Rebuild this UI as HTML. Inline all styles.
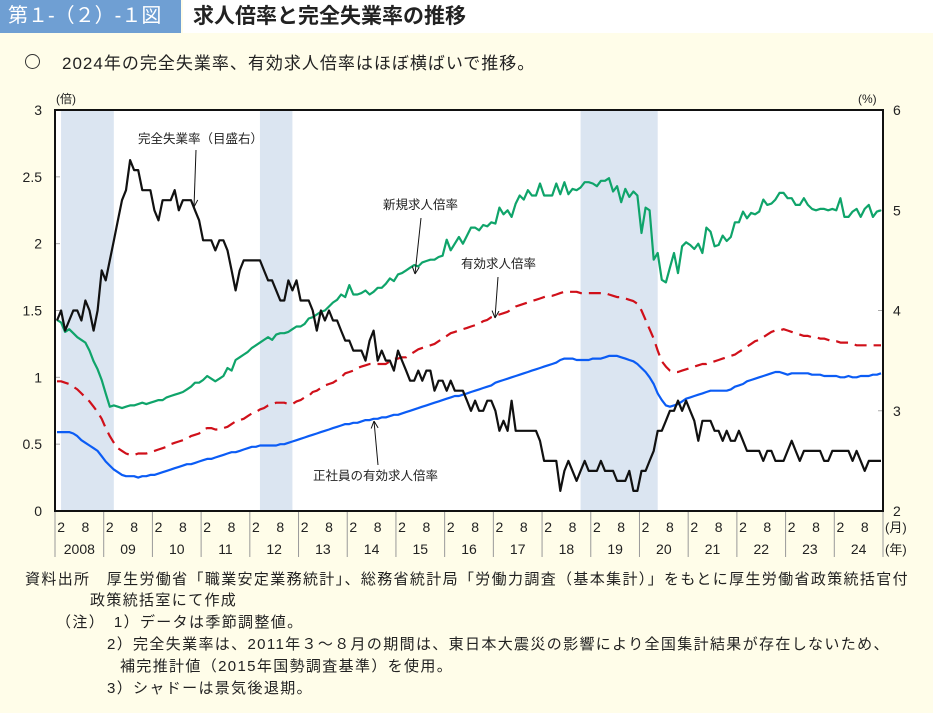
<!DOCTYPE html>
<html><head><meta charset="utf-8">
<style>
body{margin:0;width:933px;height:713px;background:#fffde9;overflow:hidden;font-family:"Liberation Sans","Noto Sans CJK JP",sans-serif;color:#222;position:relative}
.hdr-l{position:absolute;left:0;top:0;width:181px;height:33px;background:#6f9fd3;color:#fff;font-size:20px;line-height:33px;padding-left:8px;box-sizing:border-box;white-space:nowrap;overflow:hidden}
.hdr-r{position:absolute;left:183px;top:0;width:750px;height:33px;background:#fff;font-size:21px;line-height:33px;padding-left:10px;box-sizing:border-box;font-weight:bold;color:#222}
.sub{position:absolute;top:49px;font-size:17px;letter-spacing:1px;white-space:nowrap}
.fn{position:absolute;font-size:15px;letter-spacing:1.35px;white-space:nowrap}
</style></head><body>
<div class="hdr-l">第１-（２）-１図</div>
<div class="hdr-r">求人倍率と完全失業率の推移</div>
<div style="position:absolute;left:25px;top:54px;width:13px;height:13px;border:1.3px solid #333;border-radius:50%"></div>
<div class="sub" style="left:62px">2024年の完全失業率、有効求人倍率はほぼ横ばいで推移。</div>
<svg id="chart" width="933" height="713" style="position:absolute;left:0;top:0" font-family="Liberation Sans, Noto Sans CJK JP, sans-serif"></svg>
<div class="fn" style="left:25px;top:568px">資料出所　厚生労働省「職業安定業務統計」、総務省統計局「労働力調査（基本集計）」をもとに厚生労働省政策統括官付</div>
<div class="fn" style="left:90px;top:589px">政策統括室にて作成</div>
<div class="fn" style="left:56px;top:611px">（注）　1）データは季節調整値。</div>
<div class="fn" style="left:107px;top:633px">2）完全失業率は、2011年３～８月の期間は、東日本大震災の影響により全国集計結果が存在しないため、</div>
<div class="fn" style="left:120px;top:655px">補完推計値（2015年国勢調査基準）を使用。</div>
<div class="fn" style="left:107px;top:677px">3）シャドーは景気後退期。</div>
<script>
const years=[2008,2009,2010,2011,2012,2013,2014,2015,2016,2017,2018,2019,2020,2021,2022,2023,2024];
const yearLabels=["2008","09","10","11","12","13","14","15","16","17","18","19","20","21","22","23","24"];
const leftTicks=[0,0.5,1,1.5,2,2.5,3];
const leftTickLabels=["0","0.5","1","1.5","2","2.5","3"];
const rightTicks=[2,3,4,5,6];
const recessions=[[1,14],[50,58],[129,148]];
const newOpenings=[1.43,1.41,1.34,1.36,1.33,1.30,1.28,1.26,1.20,1.12,1.06,0.98,
0.88,0.78,0.79,0.78,0.77,0.78,0.79,0.79,0.80,0.81,0.80,0.81,
0.82,0.83,0.83,0.85,0.86,0.87,0.88,0.89,0.91,0.93,0.96,0.96,
0.98,1.01,0.99,0.97,0.99,1.01,1.07,1.05,1.13,1.15,1.17,1.19,
1.22,1.24,1.26,1.28,1.30,1.28,1.32,1.33,1.33,1.34,1.36,1.38,
1.38,1.40,1.44,1.45,1.47,1.49,1.50,1.53,1.56,1.58,1.62,1.60,
1.69,1.62,1.62,1.63,1.65,1.62,1.64,1.67,1.67,1.70,1.74,1.72,
1.77,1.78,1.80,1.82,1.84,1.83,1.86,1.87,1.88,1.88,1.90,1.91,
2.03,1.95,2.00,2.05,2.00,2.06,2.12,2.12,2.10,2.14,2.13,2.16,
2.15,2.27,2.22,2.25,2.20,2.30,2.36,2.33,2.40,2.36,2.36,2.45,
2.36,2.36,2.36,2.45,2.37,2.46,2.37,2.41,2.40,2.42,2.46,2.46,
2.45,2.43,2.47,2.47,2.49,2.39,2.43,2.31,2.41,2.35,2.39,2.36,
2.08,2.27,2.25,1.88,1.93,1.73,1.71,1.82,1.93,1.78,1.98,2.01,
1.99,1.96,2.00,1.93,2.12,2.09,1.98,1.99,2.06,2.02,2.05,2.16,
2.16,2.24,2.19,2.23,2.22,2.24,2.33,2.29,2.30,2.33,2.38,2.38,
2.34,2.34,2.29,2.29,2.34,2.29,2.26,2.25,2.26,2.26,2.25,2.26,
2.25,2.34,2.20,2.20,2.24,2.26,2.20,2.26,2.29,2.20,2.24,2.25];
const activeOpenings=[.97,.97,.96,.95,.93,.91,.88,.85,.82,.78,.74,.69,
.62,.56,.51,.47,.45,.43,.42,.42,.43,.43,.43,.44,
.45,.46,.47,.48,.50,.51,.52,.53,.54,.56,.57,.58,
.61,.62,.62,.61,.61,.62,.63,.65,.67,.68,.69,.71,
.73,.74,.76,.77,.79,.80,.81,.81,.81,.80,.80,.82,
.83,.85,.86,.89,.90,.92,.94,.95,.96,.98,1.00,1.03,
1.04,1.05,1.07,1.08,1.09,1.10,1.10,1.10,1.10,1.10,1.12,1.14,
1.14,1.15,1.15,1.17,1.19,1.21,1.22,1.23,1.24,1.25,1.27,1.29,
1.31,1.33,1.34,1.35,1.36,1.37,1.38,1.39,1.40,1.42,1.43,1.45,
1.46,1.47,1.48,1.49,1.51,1.53,1.54,1.55,1.56,1.57,1.58,1.59,
1.60,1.61,1.61,1.62,1.63,1.64,1.64,1.64,1.64,1.63,1.63,1.63,
1.63,1.63,1.63,1.63,1.62,1.61,1.60,1.60,1.59,1.58,1.57,1.55,
1.50,1.43,1.36,1.29,1.20,1.12,1.08,1.05,1.04,1.04,1.05,1.06,
1.07,1.08,1.09,1.10,1.10,1.11,1.12,1.13,1.14,1.15,1.16,1.17,
1.19,1.21,1.23,1.25,1.27,1.28,1.30,1.32,1.34,1.35,1.35,1.36,
1.35,1.34,1.33,1.32,1.31,1.31,1.30,1.30,1.29,1.29,1.28,1.27,
1.27,1.26,1.26,1.26,1.25,1.24,1.24,1.24,1.24,1.24,1.24,1.24];
const regularOpenings=[.59,.59,.59,.59,.58,.56,.53,.51,.49,.47,.45,.41,
.37,.34,.31,.29,.27,.26,.26,.26,.25,.26,.26,.27,
.27,.28,.29,.30,.31,.32,.33,.34,.35,.35,.36,.37,
.38,.39,.39,.40,.41,.42,.43,.44,.44,.45,.46,.47,
.48,.48,.49,.49,.49,.49,.49,.50,.50,.51,.52,.53,
.54,.55,.56,.57,.58,.59,.60,.61,.62,.63,.64,.65,
.65,.66,.66,.67,.68,.68,.69,.69,.70,.70,.71,.72,
.72,.73,.74,.75,.76,.77,.78,.79,.80,.81,.82,.83,
.84,.85,.86,.86,.87,.88,.89,.90,.91,.92,.93,.94,
.96,.97,.98,.99,1.00,1.01,1.02,1.03,1.04,1.05,1.06,1.07,
1.08,1.09,1.10,1.11,1.13,1.14,1.14,1.14,1.13,1.13,1.13,1.13,
1.14,1.14,1.14,1.15,1.16,1.16,1.16,1.15,1.14,1.13,1.12,1.10,
1.07,1.04,1.00,.95,.88,.83,.79,.78,.79,.80,.82,.84,
.85,.86,.87,.88,.89,.90,.90,.90,.90,.90,.91,.93,
.94,.95,.97,.98,.99,1.00,1.01,1.02,1.03,1.04,1.04,1.03,
1.02,1.03,1.03,1.03,1.03,1.03,1.02,1.02,1.02,1.01,1.01,1.01,
1.01,1.00,1.00,1.01,1.00,1.00,1.01,1.01,1.01,1.02,1.02,1.03];
const unemployment=[3.9,4.0,3.8,3.9,4.0,4.0,3.9,4.1,4.0,3.8,4.0,4.4,
4.3,4.5,4.7,4.9,5.1,5.2,5.5,5.4,5.4,5.2,5.2,5.2,
5.0,4.9,5.1,5.1,5.1,5.2,5.0,5.1,5.1,5.1,5.0,4.9,
4.7,4.7,4.7,4.6,4.7,4.7,4.6,4.4,4.2,4.4,4.5,4.5,
4.5,4.5,4.5,4.4,4.3,4.3,4.2,4.1,4.1,4.3,4.2,4.3,
4.1,4.1,4.1,4.0,3.8,4.0,3.9,4.0,3.9,3.9,3.8,3.7,
3.7,3.6,3.6,3.6,3.5,3.7,3.8,3.5,3.6,3.5,3.5,3.4,
3.6,3.5,3.4,3.3,3.3,3.4,3.3,3.4,3.4,3.2,3.3,3.3,
3.2,3.3,3.2,3.2,3.2,3.1,3.0,3.1,3.0,3.0,3.1,3.1,
3.0,2.8,2.9,2.8,3.1,2.8,2.8,2.8,2.8,2.8,2.8,2.7,
2.5,2.5,2.5,2.5,2.2,2.4,2.5,2.4,2.3,2.4,2.5,2.4,
2.4,2.4,2.5,2.4,2.4,2.4,2.3,2.3,2.3,2.4,2.2,2.2,
2.4,2.4,2.5,2.6,2.8,2.8,2.9,3.0,3.0,3.1,3.0,3.1,
3.0,2.9,2.7,2.9,2.9,2.9,2.8,2.8,2.7,2.8,2.7,2.7,
2.8,2.7,2.6,2.6,2.6,2.6,2.5,2.6,2.6,2.5,2.5,2.5,
2.6,2.7,2.6,2.5,2.6,2.6,2.6,2.6,2.6,2.5,2.5,2.6,
2.6,2.6,2.6,2.6,2.5,2.6,2.5,2.4,2.5,2.5,2.5,2.5];

const NS="http://www.w3.org/2000/svg";
const svg=document.getElementById('chart');
const X0=55,X1=883,Y0=511,Y1=110;
const MW=(X1-X0)/(years.length*12);
function xm(i){return X0+(i+0.5)*MW;}
function yl(v){return Y0-(v-leftTicks[0])/(leftTicks[leftTicks.length-1]-leftTicks[0])*(Y0-Y1);}
function yr(v){return Y0-(v-rightTicks[0])/(rightTicks[rightTicks.length-1]-rightTicks[0])*(Y0-Y1);}
function mk(tag,attrs,parent){const e=document.createElementNS(NS,tag);for(const k in attrs)e.setAttribute(k,attrs[k]);(parent||svg).appendChild(e);return e;}
function txt(s,x,y,attrs){const t=mk('text',Object.assign({x:x,y:y,'font-size':13,fill:'#222'},attrs||{}));t.textContent=s;return t;}

const plotBg=mk('rect',{x:X0,y:Y1,width:X1-X0,height:Y0-Y1,fill:'#fff'});


recessions.forEach(r=>{
  const e=mk('rect',{x:X0+r[0]*MW+2,y:Y1,width:(r[1]-r[0])*MW,height:Y0-Y1,fill:'#dbe5f1'});
  
  
});
leftTicks.forEach((v,i)=>{
  const t=txt(leftTickLabels[i],42,yl(v)+5,{'text-anchor':'end','font-size':14});
  
  
  mk('line',{x1:X0,x2:X0+5,y1:yl(v),y2:yl(v),stroke:'#aaa'});
});
rightTicks.forEach(v=>{
  const t=txt(String(v),893,yr(v)+5,{'font-size':14});
  
  
  mk('line',{x1:X1-5,x2:X1,y1:yr(v),y2:yr(v),stroke:'#aaa'});
});
let u1=txt('(倍)',56,103,{'font-size':12});


let u2=txt('(%)',858,103,{'font-size':12});


years.forEach((y,k)=>{
  const xs=X0+k*12*MW;
  mk('line',{x1:xs,x2:xs,y1:Y0,y2:557,stroke:'#999','stroke-width':1});
  const a=txt('2',xm(k*12+1),532,{'text-anchor':'middle','font-size':14});
  
  
  const b=txt('8',xm(k*12+7),532,{'text-anchor':'middle','font-size':14});
  
  
  const c=txt(yearLabels[k],xs+6*MW,554,{'text-anchor':'middle','font-size':14});
  
  
});
mk('line',{x1:X1,x2:X1,y1:Y0,y2:557,stroke:'#999'});
let m1=txt('(月)',885,532,{'font-size':13});


let m2=txt('(年)',885,554,{'font-size':13});



function series(arr,yf,color,name,dash){
  const d=arr.map((v,i)=>(i?'L':'M')+xm(i).toFixed(1)+','+yf(v).toFixed(1)).join('');
  const p=mk('path',{d:d,fill:'none',stroke:color,'stroke-width':2.2,'stroke-linejoin':'round'});
  if(dash)p.setAttribute('stroke-dasharray',dash);
  
  
}
series(regularOpenings,yl,'#0b5cf5','line-regular-employee-openings');
series(activeOpenings,yl,'#d0101a','line-active-openings','12,7');
series(newOpenings,yl,'#0fa46a','line-new-openings');
series(unemployment,yr,'#111','line-unemployment-rate');

const frame=mk('rect',{x:X0,y:Y1,width:X1-X0,height:Y0-Y1,fill:'none',stroke:'#111','stroke-width':2});



function label(s,x,y,ax1,ay1,ax2,ay2,name){
  const t=txt(s,x,y,{'font-size':12.5});
  
  
  mk('line',{x1:ax1,y1:ay1,x2:ax2,y2:ay2,stroke:'#111','stroke-width':1});
  const ang=Math.atan2(ay2-ay1,ax2-ax1);
  [0.45,-0.45].forEach(o=>mk('line',{x1:ax2,y1:ay2,x2:ax2-8*Math.cos(ang+o),y2:ay2-8*Math.sin(ang+o),stroke:'#111','stroke-width':1}));
}
label('完全失業率（目盛右）',138,143,196,150,194,207,'label-unemployment');
label('新規求人倍率',383,209,421,218,415,274,'label-new-openings');
label('有効求人倍率',461,268,498,277,495,318,'label-active-openings');
label('正社員の有効求人倍率',313,480,378,465,374,421,'label-regular-openings');
</script>
</body></html>
